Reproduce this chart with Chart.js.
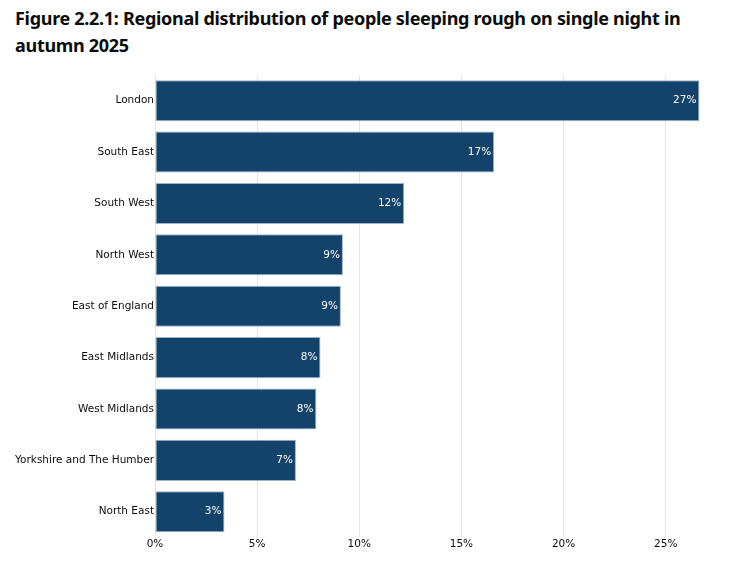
<!DOCTYPE html>
<html>
<head>
<meta charset="utf-8">
<script src="https://cdn.jsdelivr.net/npm/chart.js@4"></script>
<style>
  html, body { margin: 0; padding: 0; background: #fff; }
  #wrap { position: relative; width: 747px; height: 565px; }
  h2 {
    position: absolute; left: 15px; top: 5px; margin: 0; width: 720px;
    font-family: "Noto Sans", sans-serif; font-weight: 700; font-size: 18px;
    line-height: 27px; color: #0b0c0c; letter-spacing: -0.3px;
  }
  canvas { position: absolute; left: 0; top: 0; }
</style>
</head>
<body>
<div id="wrap">
  <h2>Figure 2.2.1: Regional distribution of people sleeping rough on single night in<br>autumn 2025</h2>
  <canvas id="myChart" width="747" height="565"></canvas>
</div>
<script>
const regions = [
  "London",
  "South East",
  "South West",
  "North West",
  "East of England",
  "East Midlands",
  "West Midlands",
  "Yorkshire and The Humber",
  "North East",
];
const shares = [26.65, 16.6, 12.2, 9.2, 9.1, 8.1, 7.9, 6.9, 3.4];
const xTicks = [0, 5, 10, 15, 20, 25];

// draws the % label inside the end of each bar
const barLabels = {
  id: "barLabels",
  afterDatasetsDraw(chart) {
    const c = chart.ctx;
    const meta = chart.getDatasetMeta(0);
    c.save();
    c.font = "10.5px 'DejaVu Sans'";
    c.fillStyle = "#ffffff";
    c.textAlign = "right";
    c.textBaseline = "middle";
    meta.data.forEach((bar, i) => {
      c.fillText(Math.round(shares[i]) + "%", bar.x - 3, bar.y);
    });
    c.restore();
  },
};

const ctx = document.getElementById("myChart").getContext("2d");

new Chart(ctx, {
  type: "bar",
  data: {
    labels: regions,
    datasets: [
      {
        data: shares,
        backgroundColor: "#13426b",
        borderColor: "#9fb3c7",
        borderWidth: 1,
        borderSkipped: false,
        categoryPercentage: 0.8,
        barPercentage: 1,
      },
    ],
  },
  options: {
    indexAxis: "y",
    responsive: false,
    animation: false,
    layout: { padding: { top: 75, right: 20, left: 0, bottom: 13 } },
    plugins: { legend: { display: false }, tooltip: { enabled: false } },
    scales: {
      x: {
        min: 0,
        max: 28,
        afterBuildTicks: (scale) => {
          scale.ticks = xTicks.map((v) => ({ value: v }));
        },
        grid: { color: "#e3e3e3", drawTicks: false },
        border: { display: false },
        ticks: {
          padding: 1,
          color: "#0b0c0c",
          font: { family: "DejaVu Sans", size: 10.5 },
          callback: (v) => v + "%",
        },
      },
      y: {
        afterFit: (scale) => {
          scale.width = 155;
        },
        grid: { display: false, drawTicks: false },
        border: { display: false },
        ticks: {
          padding: 1,
          color: "#0b0c0c",
          font: { family: "DejaVu Sans", size: 10.5 },
        },
      },
    },
  },
  plugins: [barLabels],
});
</script>
</body>
</html>
